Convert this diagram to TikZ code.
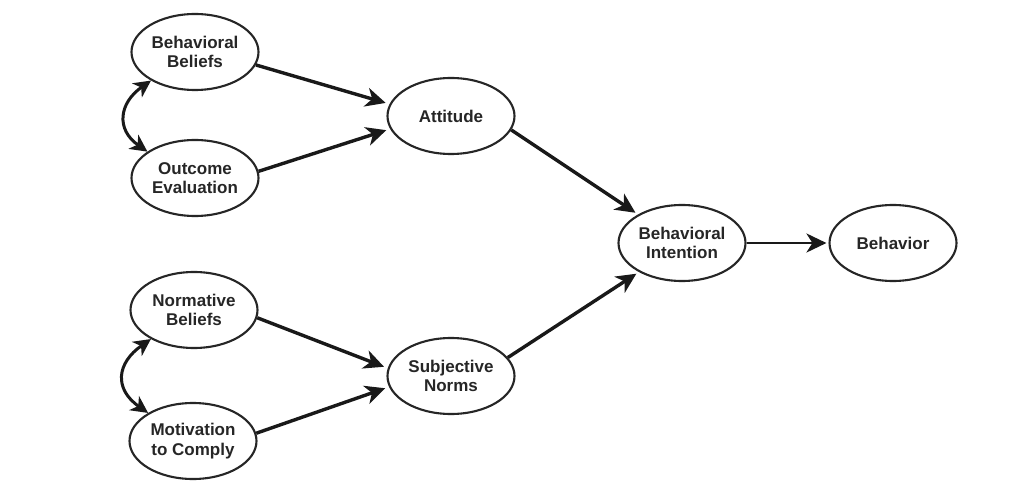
\documentclass[tikz,border=0pt]{standalone}
\usepackage{fontspec}
\setmainfont{Liberation Sans}
\usetikzlibrary{shapes.geometric,arrows.meta}
\begin{document}
\begin{tikzpicture}[x=1pt,y=-1pt,
  oval/.style={ellipse,draw=black!85,line width=2.1pt,minimum width=127pt,minimum height=76pt,inner sep=0pt,
    align=center,font=\fontsize{17}{19.5}\selectfont\bfseries,text=black!85},
  arr/.style={draw=black!90,line width=3.4pt,-{Stealth[length=20pt,width=19pt,inset=6pt]}},
  dbl/.style={draw=black!90,line width=3pt,{Stealth[length=17pt,width=17pt,inset=5pt]}-{Stealth[length=17pt,width=17pt,inset=5pt]}}]
\useasboundingbox (0,0) rectangle (1035,494);
\fill[white] (0,0) rectangle (1035,494);
\node[oval] (bb) at (195,52) {Behavioral\\Beliefs};
\node[oval] (oe) at (195,178) {Outcome\\Evaluation};
\node[oval] (nb) at (194,310) {Normative\\Beliefs};
\node[oval] (mc) at (193,441) {Motivation\\to Comply};
\node[oval] (att) at (451,116) {Attitude};
\node[oval] (sn) at (451,376) {Subjective\\Norms};
\node[oval] (bi) at (682,243) {Behavioral\\Intention};
\node[oval] (beh) at (893,243) {Behavior};
\draw[arr,shorten >=4pt] (bb.-12) -- (att.169);
\draw[arr,shorten >=4pt] (oe.6) -- (att.-168);
\draw[arr,shorten >=4pt] (nb.-7) -- (sn.173);
\draw[arr,shorten >=4pt] (mc.7) -- (sn.-170);
\draw[arr,shorten >=3pt] (att.-13) -- (bi.147);
\draw[arr,shorten >=3pt] (sn.18) -- (bi.-146);
\draw[arr,line width=2.7pt,shorten >=2pt] (bi.east) -- (beh.west);
\draw[dbl] (bb.-147) to[out=215,in=145,looseness=1.4] (oe.151);
\draw[dbl] (nb.-146) to[out=215,in=145,looseness=1.45] (mc.148);
\end{tikzpicture}
\end{document}
